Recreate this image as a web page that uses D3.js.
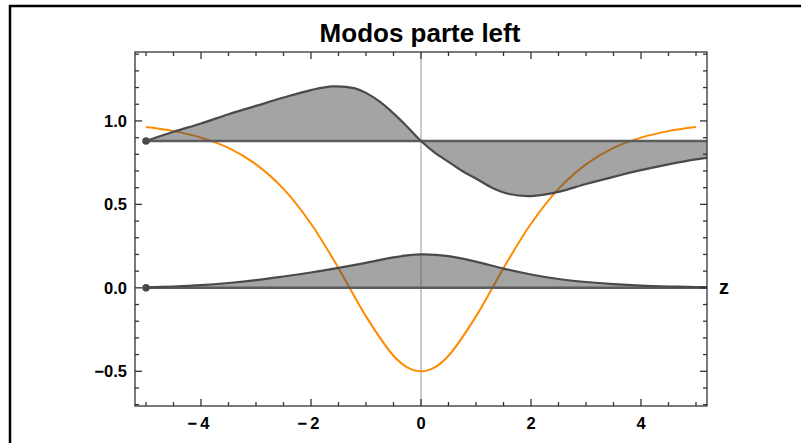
<!DOCTYPE html>
<html><head><meta charset="utf-8">
<script src="https://cdn.jsdelivr.net/npm/d3@7/dist/d3.min.js"></script>
<style>body{margin:0;background:#fff}svg{display:block}</style>
</head><body>
<svg id="c" width="801" height="443"></svg>
<script>
// ---- data ----
const titleText = "Modos parte left";
const xTicks = [-4, -2, 0, 2, 4];
const xTickLabels = ["−4", "−2", "0", "2", "4"];
const yTicks = [-0.5, 0, 0.5, 1.0];
const yTickLabels = ["−0.5", "0.0", "0.5", "1.0"];
const axisLabel = "z";

const upperBase = 0.88;
const upperX = [-5, -4.5, -4, -3.5, -3, -2.5, -2, -1.6, -1.2, -1, -0.75, -0.5, -0.25, 0, 0.25, 0.5, 0.75, 1, 1.3, 1.6, 2, 2.5, 3, 3.5, 4, 4.5, 5, 5.3];
const upperY = [0.88, 0.935, 0.985, 1.04, 1.09, 1.14, 1.185, 1.207, 1.195, 1.168, 1.115, 1.045, 0.965, 0.88, 0.81, 0.755, 0.70, 0.655, 0.598, 0.562, 0.55, 0.575, 0.622, 0.665, 0.705, 0.74, 0.77, 0.782];

const lowerBase = 0.0;
const lowerX = [-5, -4.5, -4, -3.5, -3, -2.5, -2, -1.5, -1, -0.5, 0, 0.5, 1, 1.5, 2, 2.5, 3, 3.5, 4, 4.5, 5, 5.3];
const lowerY = [0.003, 0.008, 0.016, 0.029, 0.046, 0.068, 0.092, 0.12, 0.15, 0.183, 0.2, 0.19, 0.157, 0.115, 0.08, 0.053, 0.035, 0.022, 0.013, 0.008, 0.005, 0.004];

const potX = [-5, -4.5, -4, -3.5, -3, -2.5, -2, -1.5, -1, -0.5, -0.25, 0, 0.25, 0.5, 1, 1.5, 2, 2.5, 3, 3.5, 4, 4.5, 5];
const potY = [0.963, 0.939, 0.9, 0.838, 0.74, 0.593, 0.384, 0.118, -0.171, -0.407, -0.476, -0.5, -0.476, -0.407, -0.171, 0.118, 0.384, 0.593, 0.74, 0.838, 0.9, 0.939, 0.963];

// ---- layout ----
const svg = d3.select("#c");
const L = 135, R = 707, T = 52, B = 406;
const x = d3.scaleLinear().domain([-5.2, 5.2]).range([L, R]);
const y = d3.scaleLinear().domain([-0.708, 1.413]).range([B, T]);
const font = "'Liberation Sans', Arial, sans-serif";
const dark = "#4a4a4a";
const smooth = d3.curveCatmullRom.alpha(0.5);

// outer border
svg.append("rect").attr("x", 10).attr("y", 6).attr("width", 820).attr("height", 460)
  .attr("fill", "none").attr("stroke", "#000").attr("stroke-width", 2.5);

// title
svg.append("text").attr("x", 420).attr("y", 42).attr("text-anchor", "middle")
  .attr("font-family", font).attr("font-weight", "bold").attr("font-size", 26)
  .attr("fill", "#000").text(titleText);

svg.append("defs").append("clipPath").attr("id", "clip")
  .append("rect").attr("x", L).attr("y", T).attr("width", R - L).attr("height", B - T);
const g = svg.append("g").attr("clip-path", "url(#clip)");

// vertical axis at x=0
g.append("line").attr("x1", x(0)).attr("x2", x(0)).attr("y1", T).attr("y2", B)
  .attr("stroke", "#999").attr("stroke-width", 1);

// orange curve
const pot = potX.map((v, i) => [v, potY[i]]);
g.append("path").datum(pot)
  .attr("d", d3.line().x(d => x(d[0])).y(d => y(d[1])).curve(smooth))
  .attr("fill", "none").attr("stroke", "#ff8a00").attr("stroke-width", 2);

function mode(xs, ys, base) {
  const data = xs.map((v, i) => [v, ys[i]]);
  g.append("path").datum(data)
    .attr("d", d3.area().x(d => x(d[0])).y0(y(base)).y1(d => y(d[1])).curve(smooth))
    .attr("fill", dark).attr("fill-opacity", 0.5);
  g.append("line").attr("x1", x(xs[0])).attr("x2", x(xs[xs.length - 1]))
    .attr("y1", y(base)).attr("y2", y(base))
    .attr("stroke", "#5c5c5c").attr("stroke-width", 2.5);
  g.append("path").datum(data)
    .attr("d", d3.line().x(d => x(d[0])).y(d => y(d[1])).curve(smooth))
    .attr("fill", "none").attr("stroke", dark).attr("stroke-width", 2.2);
  svg.append("circle").attr("cx", x(xs[0])).attr("cy", y(base)).attr("r", 3.8).attr("fill", dark);
}
mode(upperX, upperY, upperBase);
mode(lowerX, lowerY, lowerBase);

// frame
const fr = svg.append("g").attr("stroke", "#333").attr("stroke-width", 1.3);
fr.append("rect").attr("x", L).attr("y", T).attr("width", R - L).attr("height", B - T).attr("fill", "none");

const xMinor = d3.range(-5, 5.01, 0.5);
const yMinor = d3.range(-0.7, 1.41, 0.1).map(v => Math.round(v * 10) / 10);
function isMajorX(v) { return xTicks.some(t => Math.abs(t - v) < 1e-6); }
function isMajorY(v) { return yTicks.some(t => Math.abs(t - v) < 1e-6); }
xMinor.forEach(v => {
  const len = isMajorX(v) ? 7 : 4;
  fr.append("line").attr("x1", x(v)).attr("x2", x(v)).attr("y1", B).attr("y2", B - len);
  fr.append("line").attr("x1", x(v)).attr("x2", x(v)).attr("y1", T).attr("y2", T + len);
});
yMinor.forEach(v => {
  const len = isMajorY(v) ? 7 : 4;
  fr.append("line").attr("x1", L).attr("x2", L + len).attr("y1", y(v)).attr("y2", y(v));
  fr.append("line").attr("x1", R).attr("x2", R - len).attr("y1", y(v)).attr("y2", y(v));
});

// tick labels
xTicks.forEach((v, i) => {
  svg.append("text").attr("x", x(v) + (v < 0 ? -1 : 0)).attr("y", 429).attr("text-anchor", "middle")
    .attr("font-family", font).attr("font-weight", "bold").attr("font-size", 16.5)
    .attr("letter-spacing", v < 0 ? 3 : 0).text(xTickLabels[i]);
});
yTicks.forEach((v, i) => {
  svg.append("text").attr("x", 127).attr("y", y(v) + 6).attr("text-anchor", "end")
    .attr("font-family", font).attr("font-weight", "bold").attr("font-size", 16.5)
    .text(yTickLabels[i]);
});
svg.append("text").attr("x", 719).attr("y", 294)
  .attr("font-family", font).attr("font-weight", "bold").attr("font-size", 20).text(axisLabel);
</script>
</body></html>
